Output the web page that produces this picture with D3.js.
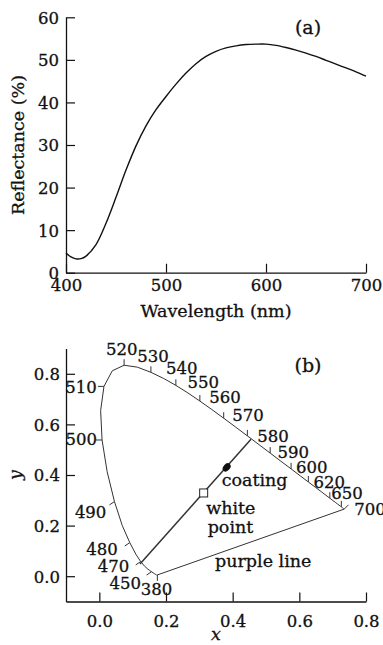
<!DOCTYPE html>
<html>
<head>
<meta charset="utf-8">
<script src="https://cdn.jsdelivr.net/npm/d3@7"></script>
<style>
  html, body { margin: 0; padding: 0; background: #fff; }
  svg { display: block; }
  text { font-family: "DejaVu Serif", serif; fill: #111; stroke: #111; stroke-width: 0.3px; }
</style>
</head>
<body>
<svg id="chart" width="383" height="645"></svg>
<script>
// ---- (a) reflectance spectrum of the coating
const wavelengths = [400, 405, 410, 415, 420, 430, 440, 450, 460, 470, 480, 490, 500, 510, 520, 530, 540, 550,
  560, 570, 580, 590, 600, 610, 620, 630, 640, 650, 660, 670, 680, 690, 700];
const reflectance = [4.6, 3.7, 3.25, 3.3, 3.9, 6.6, 11.6, 17.7, 24.1, 29.8, 34.5, 38.3, 41.4, 44.3, 46.9, 49.1,
  50.8, 52.0, 52.8, 53.3, 53.6, 53.7, 53.7, 53.4, 52.9, 52.3, 51.6, 50.8, 49.9, 49.0, 48.1, 47.2, 46.2];
const reflXTicks = [400, 500, 600, 700];
const reflYTicks = [0, 10, 20, 30, 40, 50, 60];

// ---- (b) CIE 1931 chromaticity diagram
const locusNm = [380, 385, 390, 395, 400, 405, 410, 415, 420, 425, 430, 435, 440, 445, 450, 455, 460, 465, 470,
  475, 480, 485, 490, 495, 500, 505, 510, 515, 520, 525, 530, 535, 540, 545, 550, 555, 560, 565, 570, 575, 580,
  585, 590, 595, 600, 605, 610, 615, 620, 625, 630, 635, 640, 645, 650, 655, 660, 665, 670, 675, 680, 685, 690,
  695, 700];
const locusX = [0.1741, 0.1740, 0.1738, 0.1736, 0.1733, 0.1730, 0.1726, 0.1721, 0.1714, 0.1703, 0.1689, 0.1669,
  0.1644, 0.1611, 0.1566, 0.1510, 0.1440, 0.1355, 0.1241, 0.1096, 0.0913, 0.0687, 0.0454, 0.0235, 0.0082, 0.0039,
  0.0139, 0.0389, 0.0743, 0.1142, 0.1547, 0.1929, 0.2296, 0.2658, 0.3016, 0.3373, 0.3731, 0.4087, 0.4441, 0.4788,
  0.5125, 0.5448, 0.5752, 0.6029, 0.6270, 0.6482, 0.6658, 0.6801, 0.6915, 0.7006, 0.7079, 0.7140, 0.7190, 0.7230,
  0.7260, 0.7283, 0.7300, 0.7311, 0.7320, 0.7327, 0.7334, 0.7340, 0.7344, 0.7346, 0.7347];
const locusY = [0.0050, 0.0050, 0.0049, 0.0049, 0.0048, 0.0048, 0.0048, 0.0048, 0.0051, 0.0058, 0.0069, 0.0086,
  0.0109, 0.0138, 0.0177, 0.0227, 0.0297, 0.0399, 0.0578, 0.0868, 0.1327, 0.2007, 0.2950, 0.4127, 0.5384, 0.6548,
  0.7502, 0.8120, 0.8338, 0.8262, 0.8059, 0.7816, 0.7543, 0.7243, 0.6923, 0.6589, 0.6245, 0.5896, 0.5547, 0.5202,
  0.4866, 0.4544, 0.4242, 0.3965, 0.3725, 0.3514, 0.3340, 0.3197, 0.3083, 0.2993, 0.2920, 0.2859, 0.2809, 0.2770,
  0.2740, 0.2717, 0.2700, 0.2689, 0.2680, 0.2673, 0.2666, 0.2660, 0.2656, 0.2654, 0.2653];
const locusLabels = [380, 450, 470, 480, 490, 500, 510, 520, 530, 540, 550, 560, 570, 580, 590, 600, 620, 650, 700];
const whitePoint = [0.313, 0.329];
const coatingPoint = [0.382, 0.430];
const dominantLine = [[0.122, 0.048], [0.455, 0.541]];
const cieXTicks = [0.0, 0.2, 0.4, 0.6, 0.8];
const cieYTicks = [0.0, 0.2, 0.4, 0.6, 0.8];

const svg = d3.select('#chart');
const numFont = '16.5px';
const wordFont = '17.5px';
const panelFont = '19px';

// axis helper: inward ticks, plain black lines
function styleAxis(g) {
  g.select('.domain').attr('stroke', '#111').attr('stroke-width', 1.3);
  g.selectAll('.tick line').attr('stroke', '#111').attr('stroke-width', 1.2);
  g.selectAll('.tick text')
    .attr('fill', '#111')
    .style('font-family', '"DejaVu Serif", serif')
    .style('font-size', numFont);
}

// ================= panel (a) =================
const xA = d3.scaleLinear().domain([400, 700]).range([66, 366]);
const yA = d3.scaleLinear().domain([0, 60]).range([272.7, 17.3]);

const gA = svg.append('g');

gA.append('g')
  .attr('transform', `translate(0,${yA(0)})`)
  .call(d3.axisBottom(xA).tickValues(reflXTicks).tickSizeInner(-9).tickSizeOuter(0))
  .call(styleAxis)
  .call(g => g.selectAll('.tick text').attr('y', 0).attr('dy', 18));

gA.append('g')
  .attr('transform', `translate(${xA(400)},0)`)
  .call(d3.axisLeft(yA).tickValues(reflYTicks).tickSizeInner(-9).tickSizeOuter(0).tickPadding(7))
  .call(styleAxis)
  .call(g => g.selectAll('.tick text').attr('dy', '0.36em'));

gA.append('path')
  .datum(wavelengths.map((w, i) => [w, reflectance[i]]))
  .attr('fill', 'none')
  .attr('stroke', '#111')
  .attr('stroke-width', 1.4)
  .attr('d', d3.line().x(d => xA(d[0])).y(d => yA(d[1])).curve(d3.curveCatmullRom.alpha(0.5)));

gA.append('text')
  .attr('x', (xA.range()[0] + xA.range()[1]) / 2)
  .attr('y', 317)
  .attr('text-anchor', 'middle')
  .style('font-size', wordFont)
  .text('Wavelength (nm)');

gA.append('text')
  .attr('transform', `translate(24,${(yA.range()[0] + yA.range()[1]) / 2}) rotate(-90)`)
  .attr('text-anchor', 'middle')
  .style('font-size', wordFont)
  .text('Reflectance (%)');

gA.append('text')
  .attr('x', 308).attr('y', 34)
  .attr('text-anchor', 'middle')
  .style('font-size', panelFont)
  .text('(a)');

// ================= panel (b) =================
const xB = d3.scaleLinear().domain([-0.1, 0.8]).range([66, 366]);
const yB = d3.scaleLinear().domain([-0.1, 0.9]).range([601.5, 348.5]);
const fmt = d3.format('.1f');

const gB = svg.append('g');

gB.append('g')
  .attr('transform', `translate(0,${yB(-0.1)})`)
  .call(d3.axisBottom(xB).tickValues(cieXTicks).tickFormat(fmt).tickSizeInner(-9).tickSizeOuter(0))
  .call(styleAxis)
  .call(g => g.selectAll('.tick text').attr('y', 0).attr('dy', 25));

gB.append('g')
  .attr('transform', `translate(${xB(-0.1)},0)`)
  .call(d3.axisLeft(yB).tickValues(cieYTicks).tickFormat(fmt).tickSizeInner(-9).tickSizeOuter(0).tickPadding(6))
  .call(styleAxis)
  .call(g => g.selectAll('.tick text').attr('dy', '0.36em'));

const locus = locusNm.map((w, i) => ({ w, x: locusX[i], y: locusY[i] }));
const lineB = d3.line().x(d => xB(d.x)).y(d => yB(d.y));

// spectral locus
gB.append('path')
  .datum(locus)
  .attr('fill', 'none')
  .attr('stroke', '#333')
  .attr('stroke-width', 1)
  .attr('d', lineB);

// purple line closes the locus
gB.append('path')
  .datum([locus[0], locus[locus.length - 1]])
  .attr('fill', 'none')
  .attr('stroke', '#333')
  .attr('stroke-width', 1)
  .attr('d', lineB);

// line through the white point and the coating colour
gB.append('path')
  .datum(dominantLine.map(p => ({ x: p[0], y: p[1] })))
  .attr('fill', 'none')
  .attr('stroke', '#333')
  .attr('stroke-width', 1.5)
  .attr('d', lineB);

// wavelength ticks and labels on the locus
function sideOf(w) {
  if (w === 380) return 'bottom';
  if (w <= 490) return 'lowerLeft';
  if (w <= 510) return 'left';
  if (w === 700) return 'end';
  return 'top';
}
const sideStyle = {
  bottom:    { dir: [0, 1],        anchor: 'middle' },
  lowerLeft: { dir: [-0.83, 0.56], anchor: 'end' },
  left:      { dir: [-1, 0],       anchor: 'end' },
  top:       { dir: [0, -1],       anchor: 'middle' },
  end:       { dir: [0.71, -0.71], anchor: 'start' }
};
// label offset from the tick tip, px
const labelNudge = {
  380: [-0.8, 14.5], 450: [-5.5, 14.4], 470: [-6.4, 6.9], 480: [-7.1, 9.1], 490: [-3.1, 13.4],
  500: [1, 5], 510: [-1.3, 6.7], 520: [-2.4, -4.5], 530: [2.1, -4.8], 540: [5.8, -5.5],
  550: [3.4, -7.2], 560: [1.3, -9], 570: [0.6, -9.3], 580: [2.8, -5.4], 590: [2.2, -4.6],
  600: [3.4, -2.7], 620: [-0.5, -3.9], 650: [5.7, -1.5], 700: [5.8, 10.3]
};
const tickLen = 6;

const marks = gB.append('g').selectAll('g')
  .data(locusLabels.map(w => locus.find(d => d.w === w)))
  .join('g');

marks.each(function (d) {
  const s = sideStyle[sideOf(d.w)];
  const n = labelNudge[d.w];
  const px = xB(d.x), py = yB(d.y);
  const tx = px + s.dir[0] * tickLen, ty = py + s.dir[1] * tickLen;
  const g = d3.select(this);
  g.append('line')
    .attr('x1', px).attr('y1', py).attr('x2', tx).attr('y2', ty)
    .attr('stroke', '#333').attr('stroke-width', 1);
  g.append('text')
    .attr('x', tx + n[0]).attr('y', ty + n[1])
    .attr('text-anchor', s.anchor)
    .style('font-size', numFont)
    .text(d.w);
});

// coating point (filled ellipse along the line)
const angle = Math.atan2(yB(dominantLine[1][1]) - yB(dominantLine[0][1]),
  xB(dominantLine[1][0]) - xB(dominantLine[0][0])) * 180 / Math.PI;
gB.append('ellipse')
  .attr('transform', `translate(${xB(coatingPoint[0])},${yB(coatingPoint[1])}) rotate(${angle})`)
  .attr('rx', 4.6).attr('ry', 3.3)
  .attr('fill', '#111');

// white point (open square)
gB.append('rect')
  .attr('x', xB(whitePoint[0]) - 4).attr('y', yB(whitePoint[1]) - 4)
  .attr('width', 8).attr('height', 8)
  .attr('fill', '#fff').attr('stroke', '#222').attr('stroke-width', 1);

gB.append('text')
  .attr('x', xB(coatingPoint[0]) - 5).attr('y', yB(coatingPoint[1]) + 19)
  .style('font-size', wordFont).text('coating');
gB.append('text')
  .attr('x', xB(whitePoint[0]) + 2.5).attr('y', yB(whitePoint[1]) + 21)
  .style('font-size', wordFont).text('white');
gB.append('text')
  .attr('x', xB(whitePoint[0]) + 4).attr('y', yB(whitePoint[1]) + 40)
  .style('font-size', wordFont).text('point');
gB.append('text')
  .attr('x', 215).attr('y', 566.5)
  .style('font-size', wordFont).text('purple line');

gB.append('text')
  .attr('x', 308).attr('y', 372)
  .attr('text-anchor', 'middle')
  .style('font-size', panelFont)
  .text('(b)');

gB.append('text')
  .attr('x', (xB.range()[0] + xB.range()[1]) / 2)
  .attr('y', 640)
  .attr('text-anchor', 'middle')
  .style('font-size', wordFont)
  .style('font-style', 'italic')
  .text('x');

gB.append('text')
  .attr('transform', `translate(21,${yB(0.4)}) rotate(-90)`)
  .attr('text-anchor', 'middle')
  .style('font-size', wordFont)
  .style('font-style', 'italic')
  .text('y');
</script>
</body>
</html>
